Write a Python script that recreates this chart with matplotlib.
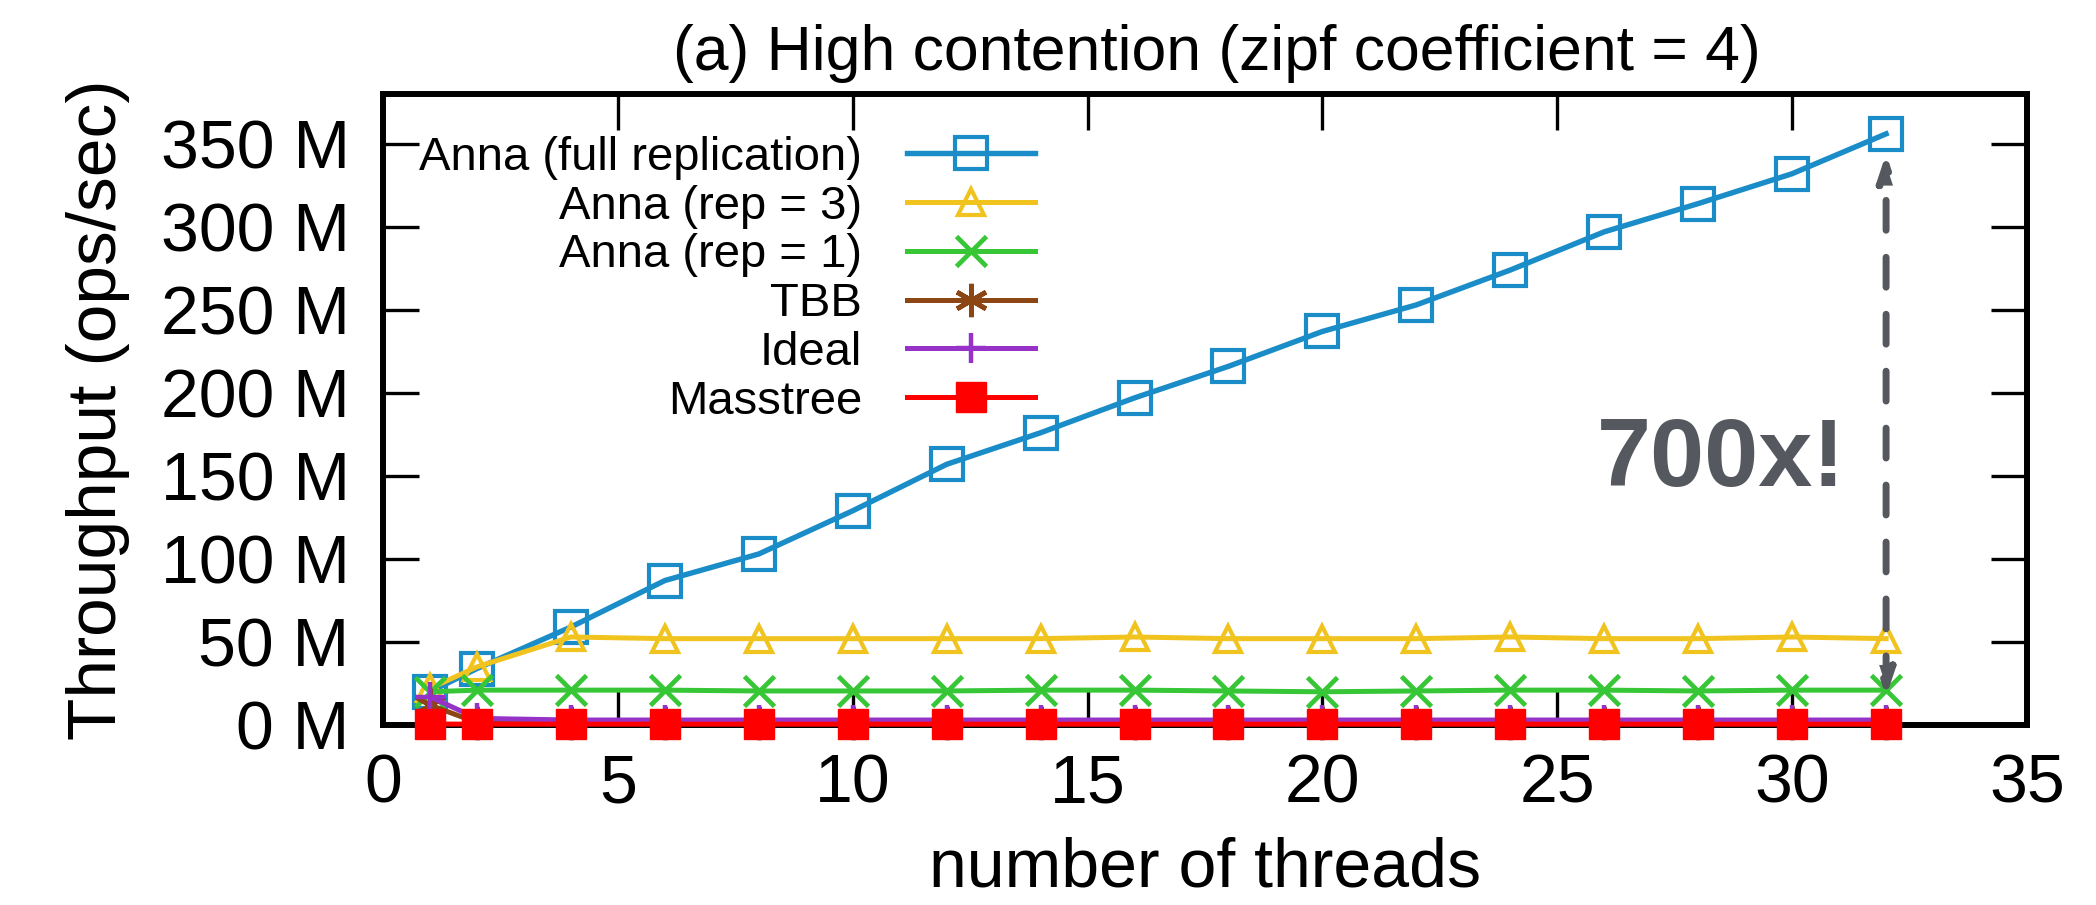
import matplotlib
matplotlib.use("Agg")
import matplotlib.pyplot as plt
from matplotlib.ticker import FuncFormatter, MultipleLocator

plt.rcParams['font.family'] = ['Liberation Sans', 'DejaVu Sans']

# ---- data (throughput in millions of ops/sec) ----
threads = [1, 2, 4, 6, 8, 10, 12, 14, 16, 18, 20, 22, 24, 26, 28, 30, 32]
anna_full = [20, 34, 59, 87, 103, 129, 157, 176, 197, 216, 237, 253, 274, 297, 314, 332, 356]
anna_rep3 = [22, 35, 53, 52, 52, 52, 52, 52, 53, 52, 52, 52, 53, 52, 52, 53, 52]
anna_rep1 = [20, 21, 21, 21, 20.5, 20.5, 20.5, 21, 21, 20.5, 20, 20.5, 21, 21, 20.5, 21, 21]
tbb = [12, 1.5, 1, 1, 1, 1, 1, 1, 1, 1, 1, 1, 1, 1, 1, 1, 1]
ideal = [17, 4, 3, 3, 3, 3, 3, 3, 3, 3, 3, 3, 3, 3, 3, 3, 3]
masstree = [0.6, 0.5, 0.5, 0.5, 0.5, 0.5, 0.5, 0.5, 0.5, 0.5, 0.5, 0.5, 0.5, 0.5, 0.5, 0.5, 0.5]

labels = ["Anna (full replication)", "Anna (rep = 3)", "Anna (rep = 1)", "TBB", "Ideal", "Masstree"]
title = "(a) High contention (zipf coefficient = 4)"
xlabel = "number of threads"
ylabel = "Throughput (ops/sec)"
annot = "700x!"

c_blue = '#1a8cc8'
c_yellow = '#f0c31e'
c_green = '#36c636'
c_brown = '#8c4614'
c_purple = '#9632c8'
c_red = '#ff0000'
c_gray = '#55585e'

fig = plt.figure(figsize=(20.96, 9.05), dpi=100)
ax = fig.add_axes([383/2096, 1-725/905, (2027-383)/2096, (725-94)/905])

lw = 3.6
ax.plot(threads, anna_full, color=c_blue, lw=3.9, marker='s', ms=23, mfc='none', mew=3.0,
        label=labels[0], clip_on=False, zorder=3)
ax.plot(threads, anna_rep3, color=c_yellow, lw=lw, marker='^', ms=19, mfc='none', mew=3.0,
        label=labels[1], clip_on=False, zorder=3)
ax.plot(threads, anna_rep1, color=c_green, lw=lw, marker='x', ms=22, mew=3.4,
        label=labels[2], clip_on=False, zorder=3)
ax.plot(threads, tbb, color=c_brown, lw=lw, marker=(6, 2, 0), ms=24, mew=3.4,
        label=labels[3], clip_on=False, zorder=3)
ax.plot(threads, ideal, color=c_purple, lw=lw, marker='+', ms=22, mew=3.2,
        label=labels[4], clip_on=False, zorder=3)
ax.plot(threads, masstree, color=c_red, lw=lw, marker='s', ms=21, mew=1.0,
        label=labels[5], clip_on=False, zorder=4)

ax.set_xlim(0, 35)
ax.set_ylim(0, 380)
ax.xaxis.set_major_locator(MultipleLocator(5))
ax.yaxis.set_major_locator(MultipleLocator(50))
ax.yaxis.set_major_formatter(FuncFormatter(lambda v, p: f"{v:.0f} M"))

for s in ax.spines.values():
    s.set_linewidth(4.3)
ax.tick_params(axis='both', which='major', direction='in', length=26, width=2.4,
               top=True, right=True, labelsize=49)
ax.tick_params(axis='x', pad=20)
ax.tick_params(axis='y', pad=24)

ax.set_xlabel(xlabel, fontsize=49, labelpad=14)
ax.set_ylabel(ylabel, fontsize=50, labelpad=22)
ax.set_title(title, fontsize=45, pad=17, x=0.507)

leg = ax.legend(loc='upper right', bbox_to_anchor=(1035/2096, 1-136/905),
                bbox_transform=fig.transFigure, frameon=False, markerfirst=False,
                fontsize=34, handlelength=2.71, handletextpad=0.95, labelspacing=0.1,
                borderpad=0, borderaxespad=0, numpoints=1)

# 700x annotation: arrow between top series and bottom series at the last thread count
xa = threads[-1]
ax.annotate('', xy=(xa, anna_full[-1] - 12), xytext=(xa, anna_rep1[-1] - 4),
            arrowprops=dict(arrowstyle='<|-|>,head_length=1.5,head_width=0.5', color=c_gray,
                            lw=5, ls=(0, (4.3, 3.9)), shrinkA=0, shrinkB=0),
            zorder=5)
ax.text(28.5, 159, annot, fontsize=70, fontweight='bold', color=c_gray,
        ha='center', va='center', zorder=5)

fig.savefig('out.png', dpi=100)
